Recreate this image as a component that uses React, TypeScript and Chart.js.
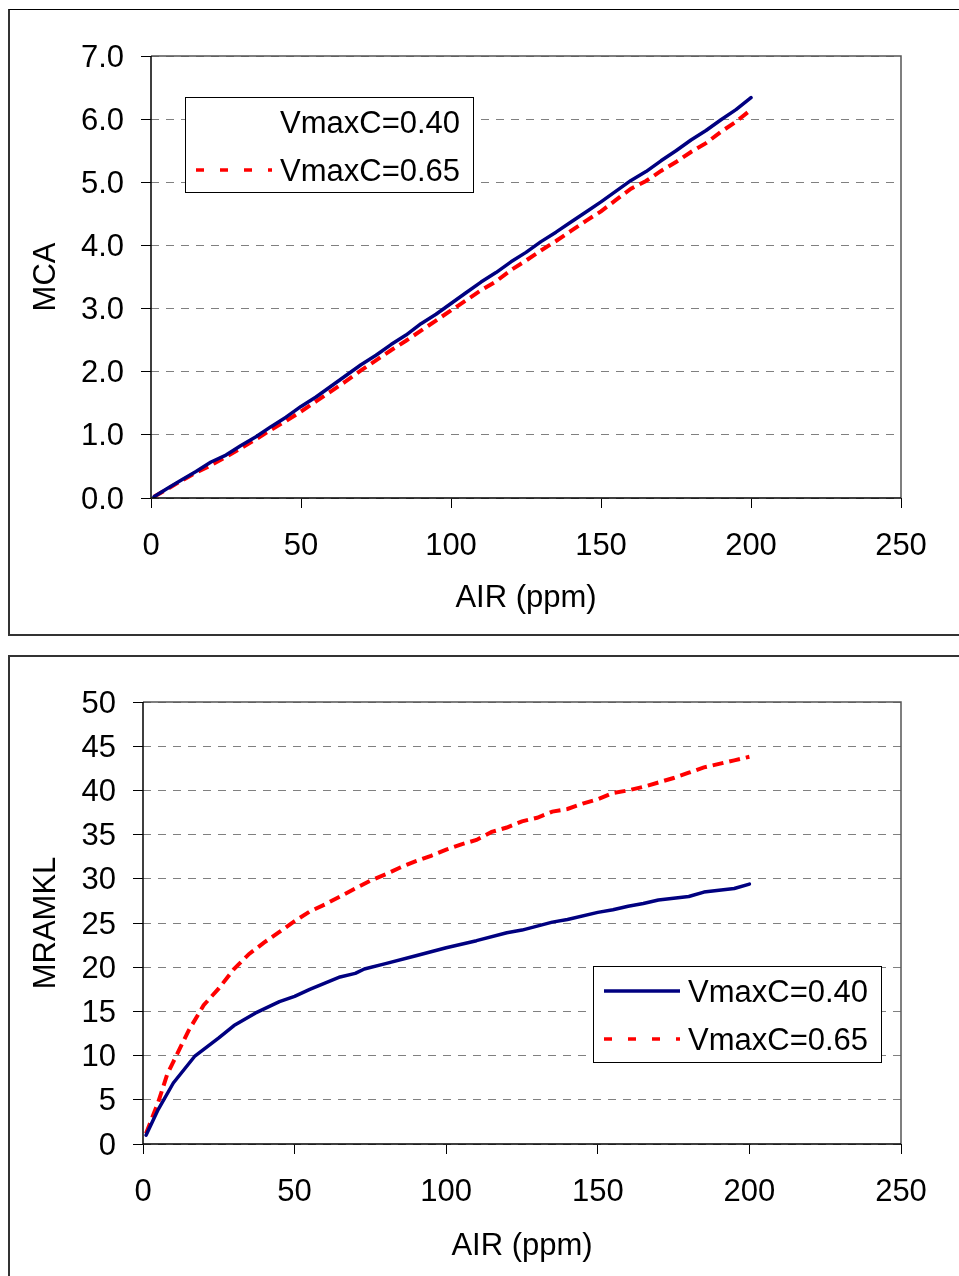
import React, { useEffect, useRef } from "react";
import { Chart, registerables } from "chart.js";

Chart.register(...registerables);

const FONT = "'Liberation Sans', Arial, Helvetica, sans-serif";

const seriesLabels = ["VmaxC=0.40", "VmaxC=0.65"];
const xTickValues = [0, 50, 100, 150, 200, 250];
const mcaTickValues = [0, 1, 2, 3, 4, 5, 6, 7];
const mramTickValues = [0, 5, 10, 15, 20, 25, 30, 35, 40, 45, 50];

// Top chart: MCA vs AIR
const mcaAir = [1, 5, 10, 15, 20, 25, 30, 35, 40, 45, 50, 55, 60, 65, 70, 75, 80, 85, 90, 95, 100, 105, 110, 115, 120, 125, 130, 135, 140, 145, 150, 155, 160, 165, 170, 175, 180, 185, 190, 195, 200];
const mcaV040 = [0.02, 0.14, 0.28, 0.42, 0.57, 0.68, 0.83, 0.97, 1.13, 1.28, 1.45, 1.6, 1.77, 1.94, 2.11, 2.26, 2.43, 2.58, 2.76, 2.91, 3.08, 3.25, 3.42, 3.57, 3.74, 3.89, 4.06, 4.21, 4.37, 4.53, 4.69, 4.86, 5.03, 5.17, 5.34, 5.5, 5.67, 5.82, 5.99, 6.15, 6.34];
const mcaV065 = [0.02, 0.13, 0.27, 0.4, 0.52, 0.65, 0.79, 0.93, 1.08, 1.22, 1.37, 1.53, 1.69, 1.85, 2.02, 2.18, 2.34, 2.49, 2.65, 2.81, 2.97, 3.13, 3.29, 3.43, 3.61, 3.76, 3.92, 4.07, 4.23, 4.39, 4.54, 4.72, 4.9, 5.02, 5.18, 5.32, 5.48, 5.62, 5.8, 5.96, 6.15];

// Bottom chart: MRAMKL vs AIR
const mramAirV040 = [1, 5, 10, 17, 25, 30, 37, 45, 50, 55, 60, 65, 70, 73, 80, 90, 100, 110, 120, 125, 135, 140, 150, 155, 160, 165, 170, 180, 185, 195, 200];
const mramV040 = [1.0, 3.9, 6.9, 9.9, 12.0, 13.4, 14.8, 16.1, 16.7, 17.5, 18.2, 18.9, 19.3, 19.8, 20.4, 21.3, 22.2, 23.0, 23.9, 24.2, 25.1, 25.4, 26.2, 26.5, 26.9, 27.2, 27.6, 28.0, 28.5, 28.9, 29.4];
const mramAirV065 = [1, 5, 8, 10, 15, 20, 25, 30, 35, 40, 45, 50, 55, 60, 65, 70, 75, 80, 85, 90, 95, 100, 105, 110, 115, 120, 125, 130, 135, 140, 145, 150, 155, 160, 165, 170, 175, 180, 185, 190, 195, 200];
const mramV065 = [1.2, 4.7, 7.9, 9.3, 12.8, 15.7, 17.6, 19.8, 21.5, 22.8, 24.0, 25.2, 26.3, 27.1, 28.0, 28.9, 29.8, 30.5, 31.3, 32.0, 32.6, 33.3, 33.9, 34.4, 35.3, 35.8, 36.5, 36.9, 37.6, 37.9, 38.5, 39.0, 39.7, 40.0, 40.4, 40.9, 41.4, 42.0, 42.6, 43.0, 43.4, 43.8];

const BLUE = "#000080";
const RED = "#FF0000";

const pair = (xs: number[], ys: number[]) => xs.map((x, i) => ({ x, y: ys[i] }));

const framePlugin = {
  id: "plotFrame",
  afterDatasetsDraw(chart: any) {
    const { ctx, chartArea: a } = chart;
    ctx.save();
    ctx.setLineDash([]);
    ctx.lineWidth = 1.5;
    ctx.strokeStyle = "#555";
    ctx.beginPath();
    ctx.moveTo(a.left, a.top);
    ctx.lineTo(a.right, a.top);
    ctx.lineTo(a.right, a.bottom);
    ctx.stroke();
    ctx.strokeStyle = "#000";
    ctx.beginPath();
    ctx.moveTo(a.left, a.top);
    ctx.lineTo(a.left, a.bottom);
    ctx.lineTo(a.right, a.bottom);
    ctx.stroke();
    ctx.restore();
  },
};

const boxLegendPlugin = {
  id: "boxLegend",
  afterDraw(chart: any, _args: any, opts: any) {
    const ctx = chart.ctx;
    const { x, y, w, h, hideFirstSample } = opts;
    const rows = [25, 73];
    ctx.save();
    ctx.fillStyle = "#fff";
    ctx.fillRect(x, y, w, h);
    ctx.setLineDash([]);
    ctx.lineWidth = 1;
    ctx.strokeStyle = "#000";
    ctx.strokeRect(x + 0.5, y + 0.5, w, h);
    chart.data.datasets.forEach((ds: any, i: number) => {
      const cy = y + rows[i];
      if (!(hideFirstSample && i === 0)) {
        ctx.beginPath();
        ctx.setLineDash(ds.legendDash || []);
        ctx.strokeStyle = ds.borderColor;
        ctx.lineWidth = 3.5;
        ctx.lineCap = "butt";
        ctx.moveTo(x + 11, cy);
        ctx.lineTo(x + 87, cy);
        ctx.stroke();
      }
      ctx.setLineDash([]);
      ctx.fillStyle = "#000";
      ctx.font = `31px ${FONT}`;
      ctx.textBaseline = "middle";
      ctx.textAlign = "left";
      ctx.fillText(ds.label, x + 95, cy + 2);
    });
    ctx.restore();
  },
};

function makeConfig(p: {
  datasets: any[];
  yTicks: number[];
  yFormat: (v: number) => string;
  yTitle: string;
  padTop: number;
  yWidth: number;
  xHeight: number;
  xTitlePadBottom: number;
  legend: any;
}) {
  return {
    type: "line",
    data: { datasets: p.datasets },
    options: {
      animation: false,
      responsive: false,
      devicePixelRatio: 1,
      layout: { padding: { left: 0, top: p.padTop, right: 58, bottom: 0 } },
      font: { family: FONT },
      plugins: {
        legend: { display: false },
        tooltip: { enabled: false },
        boxLegend: p.legend,
      },
      elements: { point: { radius: 0 }, line: { tension: 0 } },
      scales: {
        x: {
          type: "linear",
          min: 0,
          max: 250,
          afterBuildTicks: (s: any) => {
            s.ticks = xTickValues.map((v) => ({ value: v }));
          },
          afterFit: (s: any) => {
            s.height = p.xHeight;
          },
          grid: {
            drawOnChartArea: false,
            drawTicks: true,
            tickLength: 10,
            tickColor: "#000",
            tickWidth: 1,
            color: "#808080",
          },
          border: { display: false },
          ticks: {
            color: "#000",
            padding: 20,
            maxRotation: 0,
            font: { family: FONT, size: 31 },
            callback: (v: any) => String(v),
          },
          title: {
            display: true,
            text: "AIR (ppm)",
            color: "#000",
            font: { family: FONT, size: 31 },
            padding: { top: 0, bottom: p.xTitlePadBottom },
          },
        },
        y: {
          type: "linear",
          min: p.yTicks[0],
          max: p.yTicks[p.yTicks.length - 1],
          afterBuildTicks: (s: any) => {
            s.ticks = p.yTicks.map((v) => ({ value: v }));
          },
          afterFit: (s: any) => {
            s.width = p.yWidth;
          },
          grid: {
            drawOnChartArea: true,
            drawTicks: true,
            tickLength: 10,
            tickColor: "#000",
            tickWidth: 1,
            tickBorderDash: [],
            color: "#808080",
            lineWidth: 1,
          },
          border: { display: false, dash: [8, 7] },
          ticks: {
            color: "#000",
            padding: 17,
            labelOffset: 2,
            font: { family: FONT, size: 31 },
            callback: (v: any) => p.yFormat(Number(v)),
          },
          title: {
            display: true,
            text: p.yTitle,
            color: "#000",
            font: { family: FONT, size: 31 },
            padding: { top: 28, bottom: 0 },
          },
        },
      },
    },
    plugins: [framePlugin, boxLegendPlugin],
  } as any;
}

function lineSets(a: any[], b: any[]) {
  return [
    {
      label: seriesLabels[0],
      data: a,
      borderColor: BLUE,
      backgroundColor: BLUE,
      borderWidth: 3.5,
      borderJoinStyle: "round",
      borderCapStyle: "round",
      fill: false,
      legendDash: [],
    },
    {
      label: seriesLabels[1],
      data: b,
      borderColor: RED,
      backgroundColor: RED,
      borderWidth: 4,
      borderDash: [11, 6],
      borderCapStyle: "butt",
      fill: false,
      legendDash: [8, 16],
    },
  ];
}

export default function App() {
  const topRef = useRef<HTMLCanvasElement | null>(null);
  const botRef = useRef<HTMLCanvasElement | null>(null);

  useEffect(() => {
    const c1 = new Chart(
      topRef.current as HTMLCanvasElement,
      makeConfig({
        datasets: lineSets(pair(mcaAir, mcaV040), pair(mcaAir, mcaV065)),
        yTicks: mcaTickValues,
        yFormat: (v) => v.toFixed(1),
        yTitle: "MCA",
        padTop: 56,
        yWidth: 151,
        xHeight: 147,
        xTitlePadBottom: 28,
        legend: { x: 185, y: 97, w: 288, h: 95, hideFirstSample: true },
      })
    );
    const c2 = new Chart(
      botRef.current as HTMLCanvasElement,
      makeConfig({
        datasets: lineSets(pair(mramAirV040, mramV040), pair(mramAirV065, mramV065)),
        yTicks: mramTickValues,
        yFormat: (v) => String(v),
        yTitle: "MRAMKL",
        padTop: 57,
        yWidth: 143,
        xHeight: 132,
        xTitlePadBottom: 11,
        legend: { x: 593, y: 321, w: 288, h: 96, hideFirstSample: false },
      })
    );
    return () => {
      c1.destroy();
      c2.destroy();
    };
  }, []);

  return (
    <div>
      <style>{"html,body{overflow:hidden;background:#fff;}"}</style>
      <div
        style={{
          position: "absolute",
          left: 8,
          top: 9,
          width: 951,
          height: 627,
          boxSizing: "border-box",
          borderTop: "1px solid #000",
          borderLeft: "2px solid #333",
          borderBottom: "2px solid #333",
        }}
      />
      <div
        style={{
          position: "absolute",
          left: 8,
          top: 655,
          width: 951,
          height: 621,
          boxSizing: "border-box",
          borderTop: "2px solid #333",
          borderLeft: "2px solid #333",
        }}
      />
      <canvas
        ref={topRef}
        width={959}
        height={645}
        style={{ position: "absolute", left: 0, top: 0, width: 959, height: 645 }}
      />
      <canvas
        ref={botRef}
        width={959}
        height={631}
        style={{ position: "absolute", left: 0, top: 645, width: 959, height: 631 }}
      />
    </div>
  );
}
